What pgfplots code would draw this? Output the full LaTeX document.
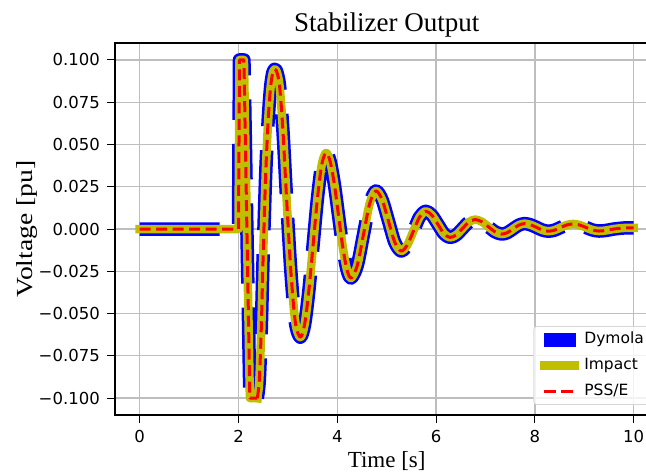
\documentclass[border=0pt]{standalone}
\usepackage{pgfplots}
\pgfplotsset{compat=1.18}
\usepackage{pgfplotstable}
\usepackage{fontspec}
\setmainfont{Liberation Serif}
\newfontfamily\dejavu{DejaVu Sans}
\definecolor{mplyellow}{rgb}{0.75,0.75,0}
\definecolor{gridgray}{RGB}{190,190,190}

\pgfplotstableread{
t v
0 0
2.00 0
2.02 0.100
2.11 0.100
2.23 -0.100
2.38 -0.100
}\spike

\pgfplotstableread{
t v
2.38 -0.100
2.42 -0.090
2.46 -0.060
2.50 -0.015
2.55 0.032
2.60 0.064
2.65 0.084
2.70 0.093
2.76 0.094
2.83 0.085
2.90 0.058
2.975 0.017
3.06 -0.025
3.15 -0.055
3.25 -0.064
3.337 -0.0567
3.423 -0.0368
3.51 -0.0095
3.597 0.0178
3.683 0.0377
3.77 0.045
3.855 0.040
3.94 0.0265
4.025 0.008
4.11 -0.0105
4.195 -0.024
4.28 -0.029
4.405 -0.0215
4.53 -0.0033
4.655 0.0150
4.78 0.0225
4.9075 0.0173
5.035 0.0048
5.1625 -0.0078
5.29 -0.013
5.415 -0.0096
5.54 -0.0013
5.665 0.0071
5.79 0.0105
5.9125 0.0082
6.035 0.0028
6.1575 -0.0027
6.28 -0.005
6.4075 -0.0035
6.535 0.0003
6.6625 0.0041
6.79 0.0056
6.925 0.0043
7.06 0.0013
7.195 -0.0017
7.33 -0.003
7.445 -0.0021
7.56 0.0001
7.675 0.0023
7.79 0.0032
7.91 0.0025
8.03 0.0010
8.15 -0.0006
8.27 -0.0013
8.395 -0.0007
8.52 0.0009
8.645 0.0024
8.77 0.0030
8.9025 0.0024
9.035 0.0009
9.1675 -0.0006
9.30 -0.0012
9.45 -0.0008
9.60 0.0000
9.80 0.0006
10.00 0.0007
}\wave

\begin{document}
\begin{tikzpicture}
\begin{axis}[
  at={(0,0)}, anchor=south west,
  scale only axis, width=543.4pt, height=372pt,
  xmin=-0.5, xmax=10.5, ymin=-0.11, ymax=0.11,
  xtick={0,2,4,6,8,10},
  xticklabels={0,2,4,6,8,10},
  ytick={-0.1,-0.075,-0.05,-0.025,0,0.025,0.05,0.075,0.1},
  yticklabels={−0.100,−0.075,−0.050,−0.025,0.000,0.025,0.050,0.075,0.100},
  tick pos=left, tick align=outside, major tick length=8pt,
  tick style={black, line width=1pt},
  axis line style={black, line width=1.2pt},
  grid=major, major grid style={gridgray, line width=1.2pt},
  xticklabel style={font=\dejavu\fontsize{16.5}{19}\selectfont, anchor=base, inner sep=0pt, yshift=-19pt},
  yticklabel style={font=\dejavu\fontsize{16.5}{19}\selectfont, anchor=east, inner sep=0pt, xshift=-7pt},
  every axis title/.style={at={(axis description cs:0.5,1)}, anchor=base, yshift=11.3pt, font=\fontsize{27}{31}\selectfont},
  every axis x label/.style={at={(axis description cs:0.5,0)}, anchor=base, yshift=-52.5pt, font=\fontsize{23}{27}\selectfont},
  every axis y label/.style={at={(axis description cs:-0.1527,0.5)}, rotate=90, anchor=base, font=\fontsize{23}{27}\selectfont},
  title={Stabilizer Output},
  xlabel={Time [s]},
  ylabel={\scalebox{1.2}[1]{Voltage [pu]}},
  legend cell align=left,
  legend style={at={(axis description cs:0.770,0.239)}, anchor=north west,
    draw={rgb,255:red,215;green,215;blue,215}, line width=0.8pt, rounded corners=3pt,
    fill=white, fill opacity=0.8, text opacity=1,
    inner xsep=6pt, inner ysep=5pt, row sep=10pt, column sep=5pt,
    font=\dejavu\fontsize{15.5}{18}\selectfont,
    nodes={inner sep=0pt, text height=12pt, text depth=4pt}},
]
% Dymola
\addplot[blue, line width=13.5pt, dash pattern=on 80pt off 24pt, line join=round, forget plot] table[x=t,y=v] {\spike};
\addplot[blue, line width=13.5pt, dash pattern=on 80pt off 24pt, dash phase=40pt, smooth, line join=round, forget plot] table[x=t,y=v] {\wave};
% Impact
\addplot[mplyellow, line width=8.5pt, line join=round, line cap=rect, forget plot] table[x=t,y=v] {\spike};
\addplot[mplyellow, line width=8.5pt, line join=round, line cap=rect, smooth, forget plot] table[x=t,y=v] {\wave};
% PSS/E
\addplot[red, line width=3pt, dash pattern=on 11pt off 5.5pt, line join=round, forget plot] table[x=t,y=v] {\spike};
\addplot[red, line width=3pt, dash pattern=on 11pt off 5.5pt, line join=round, smooth, forget plot] table[x=t,y=v] {\wave};

\addlegendimage{legend image code/.code={\fill[blue, fill opacity=1, sharp corners] (0pt,-6.5pt) rectangle (31pt,6.5pt);}}
\addlegendentry{Dymola}
\addlegendimage{legend image code/.code={\draw[mplyellow, draw opacity=1, line width=8.5pt, line cap=rect, sharp corners] (0pt,0pt) -- (31pt,0pt);}}
\addlegendentry{Impact}
\addlegendimage{legend image code/.code={\draw[red, draw opacity=1, line width=3pt, dash pattern=on 12pt off 5pt, sharp corners] (0pt,0pt) -- (31pt,0pt);}}
\addlegendentry{PSS/E}
\end{axis}
\pgfresetboundingbox
\path[use as bounding box] (-115pt,-60pt) rectangle (531pt,415pt);
\end{tikzpicture}
\end{document}
